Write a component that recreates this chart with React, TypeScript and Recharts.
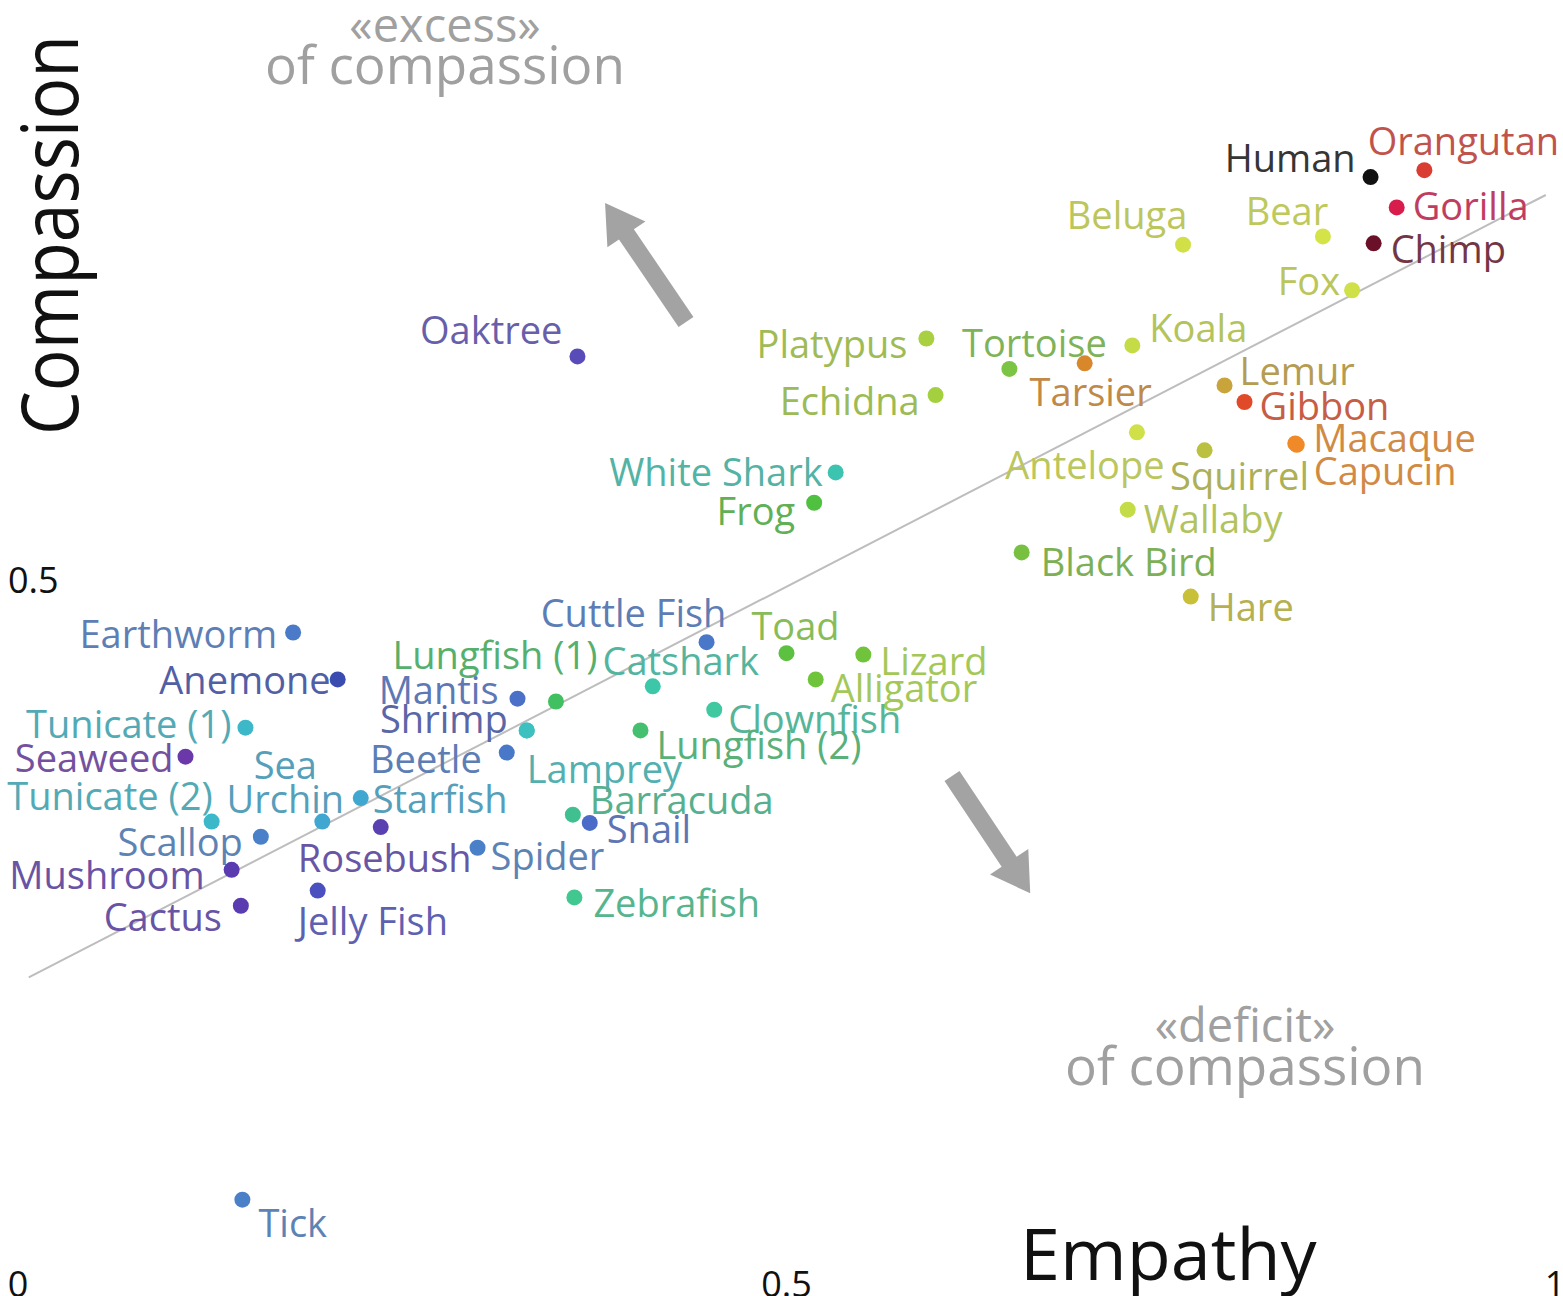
import React from 'react'
import { ScatterChart, Scatter, XAxis, YAxis, ReferenceLine } from 'recharts'

const FONT = '"Open Sans", "Noto Sans", sans-serif'

// animals / plants
const NAMES = [
  'Human', 'Orangutan', 'Gorilla', 'Chimp', 'Bear', 'Beluga', 'Fox', 'Koala', 'Tortoise', 'Tarsier',
  'Platypus', 'Echidna', 'Lemur', 'Gibbon', 'Macaque', 'Capucin', 'Antelope', 'Squirrel', 'Wallaby', 'Black Bird',
  'Hare', 'Oaktree', 'White Shark', 'Frog', 'Cuttle Fish', 'Toad', 'Lizard', 'Alligator', 'Catshark', 'Lungfish (1)',
  'Mantis', 'Shrimp', 'Lamprey', 'Beetle', 'Clownfish', 'Lungfish (2)', 'Barracuda', 'Snail', 'Zebrafish', 'Spider',
  'Rosebush', 'Starfish', 'Sea Urchin', 'Tunicate (2)', 'Tunicate (1)', 'Seaweed', 'Earthworm', 'Anemone', 'Scallop', 'Mushroom',
  'Cactus', 'Jelly Fish', 'Tick',
]
const EMPATHY = [
  0.880, 0.915, 0.897, 0.882, 0.849, 0.758, 0.868, 0.725, 0.645, 0.694,
  0.591, 0.597, 0.785, 0.798, 0.831, 0.832, 0.728, 0.772, 0.722, 0.653,
  0.763, 0.364, 0.532, 0.518, 0.448, 0.500, 0.550, 0.519, 0.413, 0.350,
  0.325, 0.331, 0.331, 0.318, 0.453, 0.405, 0.361, 0.372, 0.362, 0.299,
  0.236, 0.223, 0.198, 0.126, 0.148, 0.109, 0.179, 0.208, 0.158, 0.139,
  0.145, 0.195, 0.146,
]
const COMPASSION = [
  0.792, 0.797, 0.770, 0.744, 0.749, 0.743, 0.710, 0.670, 0.653, 0.657,
  0.675, 0.634, 0.641, 0.629, 0.599, 0.598, 0.607, 0.594, 0.551, 0.520,
  0.488, 0.662, 0.578, 0.556, 0.455, 0.447, 0.446, 0.428, 0.423, 0.412,
  0.414, 0.391, 0.391, 0.375, 0.406, 0.391, 0.330, 0.324, 0.270, 0.306,
  0.321, 0.342, 0.325, 0.325, 0.393, 0.372, 0.462, 0.428, 0.314, 0.290,
  0.264, 0.275, 0.051,
]
const X_TICKS = [0, 0.5, 1]
const Y_TICKS = [0.5]
const TREND = [{ x: 0.007, y: 0.212 }, { x: 0.994, y: 0.779 }]

const X_DOMAIN = [-0.0117, 1.0052]
const Y_DOMAIN = [-0.0188, 0.9203]

// dot colour + where the name sits next to it (lc = own label colour)
type Place = { c: string; a: 's' | 'm' | 'e'; dx: number; dy: number; lines?: string[]; lc?: string }
const PLACE: Record<string, Place> = {
  Human: { c: '#111111', a: 'e', dx: -15, dy: -20 },
  Orangutan: { c: '#d83c32', a: 'm', dx: 39, dy: -30 },
  Gorilla: { c: '#d81c4c', a: 's', dx: 16, dy: -2 },
  Chimp: { c: '#6a1028', a: 's', dx: 17, dy: 5 },
  Bear: { c: '#d4e448', a: 'm', dx: -36, dy: -26 },
  Beluga: { c: '#d2e048', a: 'm', dx: -56, dy: -31 },
  Fox: { c: '#cfe048', a: 'e', dx: -12, dy: -10 },
  Koala: { c: '#c6dc46', a: 's', dx: 17, dy: -18 },
  Tortoise: { c: '#7cc444', a: 'm', dx: 25, dy: -27 },
  Tarsier: { c: '#d8882a', a: 'm', dx: 6, dy: 28 },
  Platypus: { c: '#a8d040', a: 'e', dx: -19, dy: 4 },
  Echidna: { c: '#a4d040', a: 'e', dx: -16, dy: 5 },
  Lemur: { c: '#c8a43a', a: 's', dx: 15, dy: -15 },
  Gibbon: { c: '#e04a28', a: 's', dx: 15, dy: 3 },
  Macaque: { c: '#f08a28', a: 's', dx: 18, dy: -6 },
  Capucin: { c: '#f08a28', a: 's', dx: 17, dy: 25 },
  Antelope: { c: '#d0e048', a: 'm', dx: -52, dy: 32 },
  Squirrel: { c: '#bcc040', a: 'm', dx: 35, dy: 25 },
  Wallaby: { c: '#c4dc48', a: 's', dx: 16, dy: 8 },
  'Black Bird': { c: '#78c040', a: 's', dx: 19, dy: 9 },
  Hare: { c: '#c8c038', a: 's', dx: 17, dy: 9 },
  Oaktree: { c: '#5a4cb8', a: 'e', dx: -15, dy: -27 },
  'White Shark': { c: '#3cc4b0', a: 'e', dx: -13, dy: -1 },
  Frog: { c: '#50c040', a: 'e', dx: -19, dy: 7 },
  'Cuttle Fish': { c: '#4a78c8', a: 'm', dx: -73, dy: -30 },
  Toad: { c: '#5cc040', a: 'm', dx: 9, dy: -28, lc: '#88bc58' },
  Lizard: { c: '#70c43c', a: 's', dx: 17, dy: 5, lc: '#a4c858' },
  Alligator: { c: '#70c43c', a: 's', dx: 15, dy: 8, lc: '#a4c858' },
  Catshark: { c: '#3cc8a8', a: 'm', dx: 28, dy: -26 },
  'Lungfish (1)': { c: '#40c060', a: 'm', dx: -61, dy: -47 },
  Mantis: { c: '#4a70c8', a: 'e', dx: -19, dy: -10 },
  Shrimp: { c: '#3cc0c0', a: 'e', dx: -19, dy: -12, lc: '#5a66a6' },
  Lamprey: { c: '#3cc0c0', a: 's', dx: 0, dy: 38 },
  Beetle: { c: '#4a78c8', a: 'e', dx: -25, dy: 5 },
  Clownfish: { c: '#40c8a0', a: 's', dx: 14, dy: 8 },
  'Lungfish (2)': { c: '#44c070', a: 's', dx: 16, dy: 14 },
  Barracuda: { c: '#40c090', a: 's', dx: 17, dy: -16 },
  Snail: { c: '#4a6cc8', a: 's', dx: 17, dy: 5 },
  Zebrafish: { c: '#40c890', a: 's', dx: 19, dy: 5 },
  Spider: { c: '#4a80c8', a: 's', dx: 13, dy: 7 },
  Rosebush: { c: '#5a40b0', a: 'm', dx: 4, dy: 30 },
  Starfish: { c: '#40a8d0', a: 's', dx: 12, dy: 0 },
  'Sea Urchin': { c: '#40a8d0', a: 'm', dx: -37, dy: -58, lines: ['Sea', 'Urchin'] },
  'Tunicate (2)': { c: '#3cb8c8', a: 'e', dx: 1, dy: -27 },
  'Tunicate (1)': { c: '#3cb8c8', a: 'e', dx: -14, dy: -5 },
  Seaweed: { c: '#6a38a8', a: 'e', dx: -12, dy: 0 },
  Earthworm: { c: '#4a7ac8', a: 'e', dx: -16, dy: 1 },
  Anemone: { c: '#3a4cb0', a: 'e', dx: -7, dy: 0 },
  Scallop: { c: '#4a80c8', a: 'e', dx: -18, dy: 4 },
  Mushroom: { c: '#5a3cb0', a: 'e', dx: -27, dy: 4 },
  Cactus: { c: '#5a3cb0', a: 'e', dx: -19, dy: 10 },
  'Jelly Fish': { c: '#4a50c0', a: 's', dx: -20, dy: 29 },
  Tick: { c: '#4a80c8', a: 's', dx: 16, dy: 22 },
}

const points = NAMES.map((name, i) => ({ name, x: EMPATHY[i], y: COMPASSION[i] }))

const ANCHOR = { s: 'start', m: 'middle', e: 'end' } as const

// names are the dot colour washed toward grey
function mute(hex: string, amt = 0.3) {
  const n = parseInt(hex.slice(1), 16)
  const ch = [(n >> 16) & 255, (n >> 8) & 255, n & 255].map((v) => Math.round(v * (1 - amt) + 138 * amt))
  return `rgb(${ch.join(',')})`
}

function AnimalDot(props: any) {
  const { cx, cy, payload } = props
  const p = PLACE[payload.name]
  const lines = p.lines ?? [payload.name]
  return (
    <g>
      <circle cx={cx} cy={cy} r={8} fill={p.c} />
      {lines.map((t, i) => (
        <text
          key={t}
          x={cx + p.dx}
          y={cy + p.dy + i * 34}
          textAnchor={ANCHOR[p.a]}
          dominantBaseline="central"
          fontFamily={FONT}
          fontSize={38}
          fill={p.lc ?? mute(p.c)}
        >
          {t}
        </text>
      ))}
    </g>
  )
}

function Arrow({ x, y, len, angle }: { x: number; y: number; len: number; angle: number }) {
  const head = 38
  const sw = 9
  const hw = 23
  const d = `M0,${-sw} L${len - head},${-sw} L${len - head},${-hw} L${len},0 L${len - head},${hw} L${len - head},${sw} L0,${sw} Z`
  return <path d={d} fill="#a3a3a3" transform={`translate(${x},${y}) rotate(${angle})`} />
}

const grey = '#a0a0a0'

export default function App() {
  return (
    <div style={{ position: 'absolute', left: 0, top: 0, background: '#fff' }}>
      <ScatterChart width={1563} height={1296} margin={{ top: 0, right: 0, bottom: 0, left: 0 }}>
        <XAxis
          type="number"
          dataKey="x"
          domain={X_DOMAIN}
          allowDataOverflow
          ticks={X_TICKS}
          interval={0}
          mirror
          axisLine={false}
          tickLine={false}
          tickSize={0}
          tickMargin={-1}
          tick={{ fontSize: 36, fill: '#111', fontFamily: FONT }}
        />
        <YAxis
          type="number"
          dataKey="y"
          domain={Y_DOMAIN}
          allowDataOverflow
          ticks={Y_TICKS}
          interval={0}
          mirror
          axisLine={false}
          tickLine={false}
          tickSize={0}
          tickMargin={8}
          tick={{ fontSize: 36, fill: '#111', fontFamily: FONT }}
        />
        <ReferenceLine segment={TREND} stroke="#bdbdbd" strokeWidth={2} />
        <Scatter data={points} shape={<AnimalDot />} isAnimationActive={false} />

        <Arrow x={686} y={322} len={144} angle={-124.2} />
        <Arrow x={952} y={776} len={141} angle={56.3} />

        <text x={445} y={42} textAnchor="middle" fontFamily={FONT} fontSize={47} fill={grey}>«excess»</text>
        <text x={445} y={84} textAnchor="middle" fontFamily={FONT} fontSize={53} fill={grey}>of compassion</text>
        <text x={1245} y={1042} textAnchor="middle" fontFamily={FONT} fontSize={47} fill={grey}>«deficit»</text>
        <text x={1245} y={1085} textAnchor="middle" fontFamily={FONT} fontSize={53} fill={grey}>of compassion</text>
        <text x={1020} y={1280} fontFamily={FONT} fontSize={72} fill="#111">Empathy</text>
        <text
          x={235}
          y={0}
          textAnchor="middle"
          fontFamily={FONT}
          fontSize={78}
          fill="#111"
          textLength={400}
          lengthAdjust="spacingAndGlyphs"
          transform="translate(78,470) rotate(-90)"
        >
          Compassion
        </text>
      </ScatterChart>
    </div>
  )
}
